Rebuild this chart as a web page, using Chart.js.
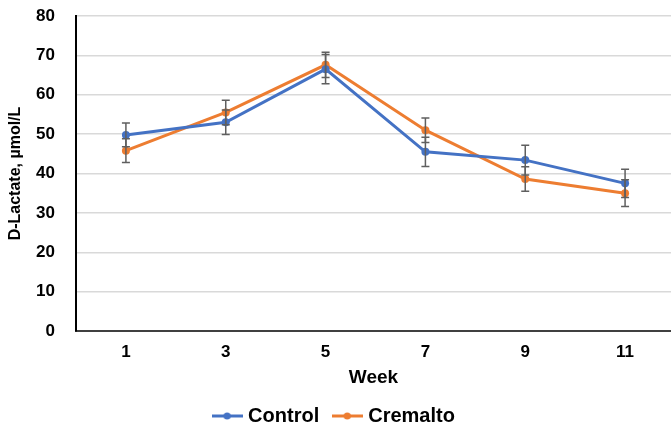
<!DOCTYPE html>
<html>
<head>
<meta charset="utf-8">
<script src="https://cdn.jsdelivr.net/npm/chart.js@4.4.1/dist/chart.umd.min.js"></script>
<style>
  html, body { margin: 0; padding: 0; background: #fff; }
  #wrap { width: 671px; height: 429px; }
</style>
</head>
<body>
<div id="wrap"><canvas id="c" width="671" height="429"></canvas></div>
<script>
// Sampling weeks and D-lactate means (µmol/L) with their error margins
const weeks = [1, 3, 5, 7, 9, 11];
const controlMean = [49.8, 53.0, 66.5, 45.5, 43.4, 37.5];
const controlErr = [3.0, 3.1, 3.7, 3.7, 3.8, 3.6];
const cremaltoMean = [45.8, 55.5, 67.6, 51.0, 38.6, 35.0];
const cremaltoErr = [3.0, 3.1, 3.2, 3.1, 3.1, 3.4];
const yTicks = [0, 10, 20, 30, 40, 50, 60, 70, 80];

const BLUE = '#4472C4';
const ORANGE = '#ED7D31';
const FONT = 'Liberation Sans, Arial, sans-serif';

// legend swatch: short line with a dot in the middle
function swatch(color) {
  const cv = document.createElement('canvas');
  cv.width = 31; cv.height = 10;
  const g = cv.getContext('2d');
  g.strokeStyle = color; g.lineWidth = 3;
  g.beginPath(); g.moveTo(0, 5); g.lineTo(31, 5); g.stroke();
  g.fillStyle = color;
  g.beginPath(); g.arc(15.5, 5, 3.6, 0, Math.PI * 2); g.fill();
  return cv;
}

// let the plot run to the right edge of the canvas
const fullWidth = {
  id: 'fullWidth',
  afterLayout(chart) {
    const x = chart.scales.x;
    chart.chartArea.right = chart.width;
    chart.chartArea.width = chart.width - chart.chartArea.left;
    x.right = chart.width;
    x.width = x.right - x.left;
    x.configure();
  }
};

// vertical error bars with caps, one per plotted mean
const errorBars = {
  id: 'errorBars',
  afterDatasetsDraw(chart) {
    const ctx = chart.ctx;
    const x = chart.scales.x, y = chart.scales.y;
    const sets = [[controlMean, controlErr], [cremaltoMean, cremaltoErr]];
    ctx.save();
    ctx.strokeStyle = '#5f5f5f';
    ctx.lineWidth = 1.5;
    sets.forEach(([m, e]) => {
      weeks.forEach((w, i) => {
        const px = x.getPixelForValue(w);
        const top = y.getPixelForValue(m[i] + e[i]);
        const bot = y.getPixelForValue(m[i] - e[i]);
        ctx.beginPath();
        ctx.moveTo(px, top); ctx.lineTo(px, bot);
        ctx.moveTo(px - 4, top); ctx.lineTo(px + 4, top);
        ctx.moveTo(px - 4, bot); ctx.lineTo(px + 4, bot);
        ctx.stroke();
      });
    });
    ctx.restore();
  }
};

const toPoints = arr => weeks.map((w, i) => ({ x: w, y: arr[i] }));

new Chart(document.getElementById('c'), {
  type: 'line',
  data: {
    datasets: [
      { label: 'Control', data: toPoints(controlMean), borderColor: BLUE, backgroundColor: BLUE, borderWidth: 3, pointRadius: 4, pointBorderWidth: 0, tension: 0 },
      { label: 'Cremalto', data: toPoints(cremaltoMean), borderColor: ORANGE, backgroundColor: ORANGE, borderWidth: 3, pointRadius: 4, pointBorderWidth: 0, tension: 0 }
    ]
  },
  plugins: [fullWidth, errorBars],
  options: {
    responsive: false,
    animation: false,
    layout: { padding: { left: 0, right: 0, top: 16, bottom: -7 } },
    plugins: {
      tooltip: { enabled: false },
      legend: {
        position: 'bottom',
        labels: {
          usePointStyle: true, pointStyleWidth: 22, padding: 17, color: '#000',
          font: { family: FONT, size: 20, weight: 'bold' },
          generateLabels(chart) {
            return chart.data.datasets.map((ds, i) => ({
              text: ds.label, pointStyle: swatch(ds.borderColor), fillStyle: ds.borderColor,
              strokeStyle: ds.borderColor, lineWidth: 0, hidden: false, datasetIndex: i, fontColor: '#000'
            }));
          }
        }
      }
    },
    scales: {
      x: {
        type: 'linear', min: 0, max: 11.92,
        afterBuildTicks(scale) { scale.ticks = weeks.map(v => ({ value: v })); },
        afterFit(scale) { scale.height = 58; scale.paddingLeft = 0; scale.paddingRight = 0; },
        grid: { display: false, drawTicks: false },
        border: { display: true, color: '#404040', width: 2 },
        ticks: { padding: 11, color: '#000', font: { family: FONT, size: 17, weight: 'bold' }, callback: v => String(v) },
        title: { display: true, text: 'Week', color: '#000', padding: { top: 0, bottom: 0 }, font: { family: FONT, size: 19, weight: 'bold' } }
      },
      y: {
        min: 0, max: 80,
        afterBuildTicks(scale) { scale.ticks = yTicks.map(v => ({ value: v })); },
        afterFit(scale) { scale.width = 76; scale.paddingTop = 0; scale.paddingBottom = 0; },
        grid: { color: '#d9d9d9', lineWidth: 1.5, drawTicks: false },
        border: { display: true, color: '#000', width: 2 },
        ticks: { padding: 21, color: '#000', font: { family: FONT, size: 17, weight: 'bold' } },
        title: { display: true, text: 'D-Lactate, µmol/L', color: '#000', padding: { top: 6, bottom: 0 }, font: { family: FONT, size: 16, weight: 'bold' } }
      }
    }
  }
});
</script>
</body>
</html>
